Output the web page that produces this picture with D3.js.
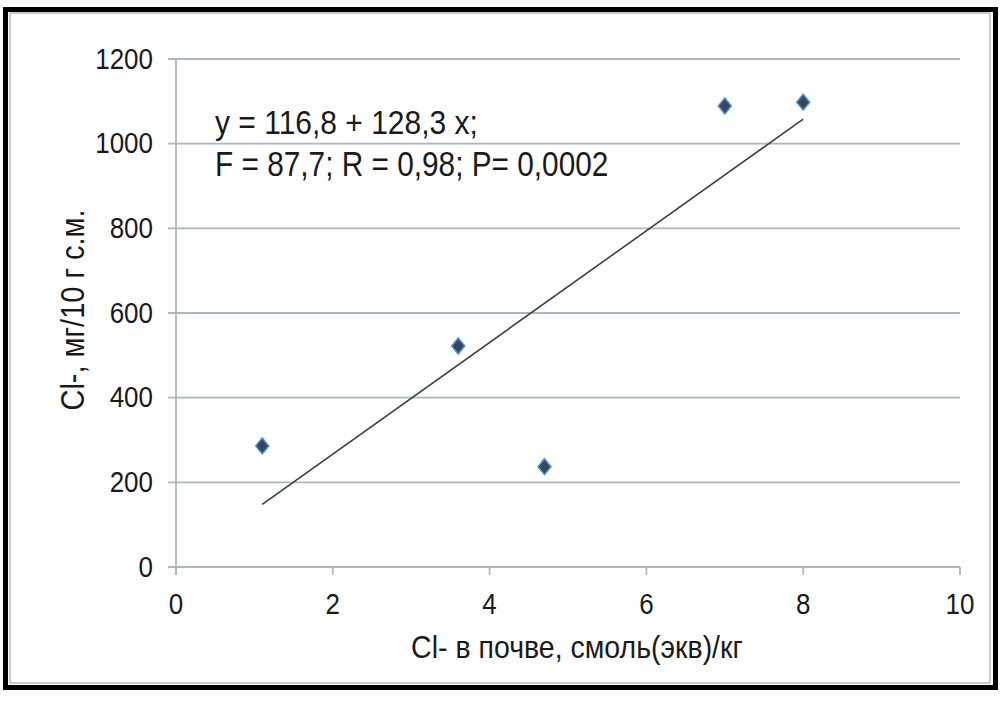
<!DOCTYPE html>
<html lang="ru">
<head>
<meta charset="UTF-8">
<title>Cl- scatter</title>
<script src="https://d3js.org/d3.v7.min.js"></script>
<style>
    body { margin: 0; background: #fff; }
    svg text { font-family: "Liberation Sans", Arial, sans-serif; fill: #1a1a1a; }
</style>
</head>
<body>
<svg id="chart" width="1007" height="704"></svg>
<script>
// data
const soilCl = [1.1, 3.6, 4.7, 7.0, 8.0];
const plantCl = [286, 522, 237, 1089, 1098];
const trendX = [1.1, 8.0];
const trendY = [148, 1058];
const xTicks = [0, 2, 4, 6, 8, 10];
const yTicks = [0, 200, 400, 600, 800, 1000, 1200];
const eqLines = ["y = 116,8 + 128,3 x;", "F = 87,7; R = 0,98; P= 0,0002"];
const xTitle = "Cl- в почве, смоль(экв)/кг";
const yTitle = "Cl-, мг/10 г с.м.";

const svg = d3.select("#chart");
const stretch = 1.12; // picture text is a bit taller than wide

// frame
svg.append("rect").attr("x", 10).attr("y", 13).attr("width", 980).attr("height", 670)
    .attr("fill", "none").attr("stroke", "#9a9a9a").attr("stroke-width", 1);
svg.append("rect").attr("x", 5.5).attr("y", 9.5).attr("width", 990).attr("height", 678)
    .attr("fill", "none").attr("stroke", "#000").attr("stroke-width", 5);

const x = d3.scaleLinear().domain([0, 10]).range([176, 960]);
const y = d3.scaleLinear().domain([0, 1200]).range([567, 59]);
const gridColor = "#a9b8bf";

// horizontal gridlines with ticks on the left
svg.append("g").selectAll("line").data(yTicks).join("line")
    .attr("x1", 168).attr("x2", 960)
    .attr("y1", d => y(d)).attr("y2", d => y(d))
    .attr("stroke", gridColor).attr("stroke-width", 1.8);

// y axis line
svg.append("line").attr("x1", x(0)).attr("x2", x(0)).attr("y1", y(1200)).attr("y2", y(0) + 8)
    .attr("stroke", gridColor).attr("stroke-width", 1.8);

// x ticks
svg.append("g").selectAll("line").data(xTicks).join("line")
    .attr("x1", d => x(d)).attr("x2", d => x(d))
    .attr("y1", y(0)).attr("y2", y(0) + 8)
    .attr("stroke", gridColor).attr("stroke-width", 1.8);

function label(g, tx, ty, str, size, anchor, extra) {
    return g.append("text")
        .attr("transform", `translate(${tx},${ty}) ${extra || ""} scale(1,${stretch})`)
        .attr("text-anchor", anchor)
        .attr("font-size", size)
        .text(str);
}

yTicks.forEach(t => label(svg, 153, y(t) + 9.5, t, 26, "end"));
xTicks.forEach(t => label(svg, x(t), 614, t, 26, "middle"));

label(svg, 577, 658, xTitle, 28.5, "middle");
label(svg, 84, 310, yTitle, 29, "middle", "rotate(-90)");

// equation text
label(svg, 215, 134, eqLines[0], 30, "start");
svg.append("text")
    .attr("transform", `translate(215,176) scale(1,1.2)`)
    .attr("font-size", 29.8)
    .text(eqLines[1]);

// trend line
const line = d3.line().x(d => x(d[0])).y(d => y(d[1]));
svg.append("path").datum(d3.zip(trendX, trendY))
    .attr("d", line)
    .attr("fill", "none").attr("stroke", "#3a3f44").attr("stroke-width", 1.6);

// diamond markers
const diamond = "M0,-8L6.5,0L0,8L-6.5,0Z";
svg.append("g").selectAll("path").data(d3.zip(soilCl, plantCl)).join("path")
    .attr("d", diamond)
    .attr("transform", d => `translate(${x(d[0])},${y(d[1])})`)
    .attr("fill", "#3b4654")
    .attr("stroke", "#4a8fe0").attr("stroke-width", 1.5);
</script>
</body>
</html>
